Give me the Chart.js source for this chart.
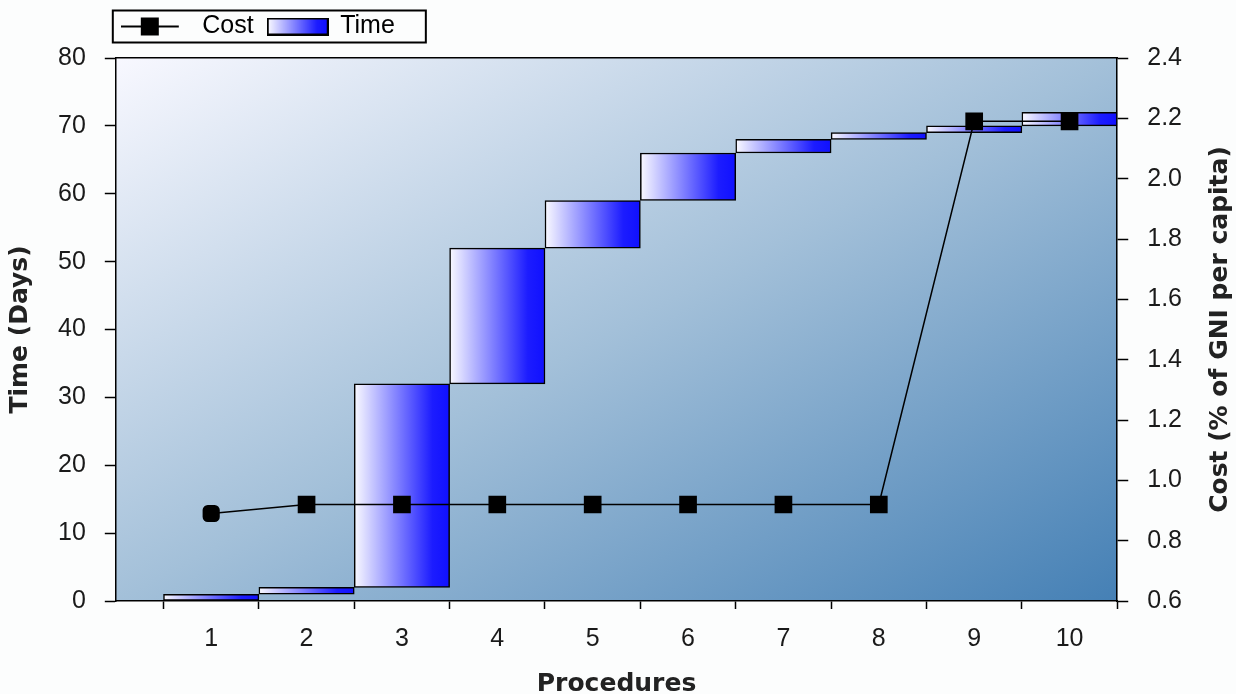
<!DOCTYPE html>
<html><head><meta charset="utf-8">
<script src="https://cdn.jsdelivr.net/npm/chart.js@4/dist/chart.umd.min.js"></script>
<style>html,body{margin:0;padding:0;background:#fcfdfd;} canvas{display:block;}</style>
</head><body>
<canvas id="c" width="1236" height="694"></canvas>
<script>
// ---- data ----
const procedures = ['1','2','3','4','5','6','7','8','9','10'];
const timeStart = [0, 1, 2, 32, 52, 59, 66, 68, 69, 70];
const timeEnd   = [1, 2, 32, 52, 59, 66, 68, 69, 70, 72];
const costValues = [0.89, 0.92, 0.92, 0.92, 0.92, 0.92, 0.92, 0.92, 2.19, 2.19];
const timeAxis = {min: 0, max: 80, step: 10};
const costAxis = {min: 0.6, max: 2.4, step: 0.2};
const seriesNames = ['Cost', 'Time'];
const xTitle = 'Procedures';
const yTitle = 'Time (Days)';
const y1Title = 'Cost (% of GNI per capita)';

const TICK_FONT = {family: '"Liberation Sans", Arial, sans-serif', size: 25};
const X_TICK_FONT = {family: '"Liberation Sans", Arial, sans-serif', size: 25, lineHeight: 1.0};
const TITLE_FONT = {family: '"DejaVu Sans", sans-serif', size: 25, weight: 'bold'};
const X_TITLE_FONT = {family: '"DejaVu Sans", sans-serif', size: 25, weight: 'bold', lineHeight: 1.0};

function fillBarGradient(g, x0, x1) {
  const gr = g.createLinearGradient(x0, 0, x1, 0);
  gr.addColorStop(0, '#fafaff');
  gr.addColorStop(0.82, '#1c1cff');
  gr.addColorStop(1, '#1010ff');
  return gr;
}

function makeCostIcon() {
  const cv = document.createElement('canvas');
  cv.width = 78; cv.height = 20;
  const g = cv.getContext('2d');
  g.strokeStyle = '#000'; g.lineWidth = 2;
  g.beginPath(); g.moveTo(0, 10); g.lineTo(58, 10); g.stroke();
  g.fillStyle = '#000'; g.fillRect(20, 1, 18, 18);
  return cv;
}
function makeTimeIcon() {
  const cv = document.createElement('canvas');
  cv.width = 62; cv.height = 18;
  const g = cv.getContext('2d');
  g.fillStyle = fillBarGradient(g, 1, 61);
  g.fillRect(1, 1, 60, 16);
  g.strokeStyle = '#000'; g.lineWidth = 2;
  g.strokeRect(1, 1, 60, 16);
  return cv;
}
const costIcon = makeCostIcon();
const timeIcon = makeTimeIcon();

function barGradient(c) {
  const chart = c.chart, xs = chart.scales.x;
  if (!xs || c.type !== 'data' || !chart.chartArea) return '#4040ff';
  const xv = c.raw.x;
  const l = xs.getPixelForValue(xv - 0.5), r = xs.getPixelForValue(xv + 0.5);
  return fillBarGradient(chart.ctx, l, r);
}

const bgPlugin = {
  id: 'bgPlugin',
  beforeDraw(chart) {
    const {ctx, chartArea: a} = chart;
    ctx.save();
    ctx.fillStyle = '#fcfdfd';
    ctx.fillRect(0, 0, chart.width, chart.height);
    const W = a.right - a.left, H = a.bottom - a.top;
    const cx = (a.left + a.right) / 2, cy = (a.top + a.bottom) / 2;
    const L = Math.sqrt(W * W + H * H);
    const dx = H / L, dy = W / L;
    const proj = W * H / L;
    const gr = ctx.createLinearGradient(cx - dx * proj, cy - dy * proj, cx + dx * proj, cy + dy * proj);
    gr.addColorStop(0, '#f8f8ff');
    gr.addColorStop(0.5, '#a3c0d9');
    gr.addColorStop(1, '#4580b5');
    ctx.fillStyle = gr;
    ctx.fillRect(a.left, a.top, W, H);
    ctx.restore();
  },
  afterDraw(chart) {
    const {ctx, chartArea: a} = chart;
    ctx.save();
    // legend frame
    const hb = chart.legend && chart.legend.legendHitBoxes;
    if (hb && hb.length) {
      const first = hb[0], last = hb[hb.length - 1];
      const midY = first.top + first.height / 2;
      ctx.strokeStyle = '#000';
      ctx.lineWidth = 2;
      const x0 = first.left - 17, x1 = last.left + last.width + 31;
      ctx.strokeRect(x0, midY - 16, x1 - x0, 32);
    }
    // right axis title (reads bottom-to-top)
    const s = chart.scales.y1;
    ctx.font = 'bold 25px "DejaVu Sans", sans-serif';
    ctx.fillStyle = '#222';
    ctx.textAlign = 'center'; ctx.textBaseline = 'middle';
    ctx.translate(s.right - 1 - 15, (a.top + a.bottom) / 2);
    ctx.rotate(-Math.PI / 2);
    ctx.fillText(y1Title, 0, 0);
    ctx.restore();
  }
};

new Chart(document.getElementById('c'), {
  type: 'bar',
  data: {
    datasets: [
      {
        type: 'line', label: seriesNames[0], yAxisID: 'y1', xAxisID: 'x',
        data: costValues.map((v, i) => ({x: i + 1, y: v})),
        borderColor: '#000', borderWidth: 1.5, tension: 0,
        pointStyle: c => c.dataIndex === 0 ? 'rectRounded' : 'rect',
        pointRadius: c => c.dataIndex === 0 ? 10 : 12.5,
        pointBackgroundColor: '#000', pointBorderColor: '#000', pointBorderWidth: 0,
        order: 0
      },
      {
        type: 'bar', label: seriesNames[1], yAxisID: 'y', xAxisID: 'x',
        data: timeStart.map((s, i) => ({x: i + 1, y: [s, timeEnd[i]]})),
        backgroundColor: barGradient,
        borderColor: '#000', borderWidth: 1.5, borderSkipped: false,
        barThickness: 'flex', barPercentage: 1, categoryPercentage: 1,
        order: 1
      }
    ]
  },
  options: {
    responsive: false,
    animation: false,
    layout: {padding: {left: 0, right: 0, top: 0, bottom: 0}},
    scales: {
      x: {
        type: 'linear', position: 'bottom', min: 0, max: procedures.length + 0.5, offset: false,
        afterBuildTicks: s => {
          const t = [];
          for (let i = 0; i < procedures.length; i++) { t.push({value: i + 0.5}); t.push({value: i + 1}); }
          t.push({value: procedures.length + 0.5});
          s.ticks = t;
        },
        ticks: {
          autoSkip: false, maxRotation: 0, font: X_TICK_FONT, color: '#1a1a1a', padding: 18,
          callback: v => Number.isInteger(v) ? procedures[v - 1] : ''
        },
        grid: {
          offset: false, drawOnChartArea: false, drawTicks: true, tickLength: 8, tickWidth: 1.5,
          tickColor: c => (c.tick && Number.isInteger(c.tick.value)) ? 'rgba(0,0,0,0)' : '#000'
        },
        border: {display: true, color: '#000', width: 1.5},
        title: {display: true, text: xTitle, font: X_TITLE_FONT, color: '#222', padding: {top: 2, bottom: -3}}
      },
      xTop: {
        type: 'linear', position: 'top', min: 0, max: procedures.length + 0.5, offset: false,
        ticks: {display: false},
        grid: {drawOnChartArea: false, drawTicks: true, tickLength: 9, tickColor: 'rgba(0,0,0,0)'},
        border: {display: true, color: '#000', width: 1.5}
      },
      y: {
        type: 'linear', position: 'left', min: timeAxis.min, max: timeAxis.max,
        ticks: {stepSize: timeAxis.step, font: TICK_FONT, color: '#1a1a1a', padding: 19},
        grid: {drawOnChartArea: false, drawTicks: true, tickLength: 11, tickWidth: 1.5, tickColor: '#000'},
        border: {display: true, color: '#000', width: 1.5},
        title: {display: true, text: yTitle, font: TITLE_FONT, color: '#222', padding: {top: 5, bottom: 4}}
      },
      y1: {
        type: 'linear', position: 'right', min: costAxis.min, max: costAxis.max,
        ticks: {stepSize: costAxis.step, font: TICK_FONT, color: '#1a1a1a', padding: 19,
          callback: v => Number(v).toFixed(1)},
        grid: {drawOnChartArea: false, drawTicks: true, tickLength: 11, tickWidth: 1.5, tickColor: '#000'},
        border: {display: true, color: '#000', width: 1.5},
        title: {display: true, text: y1Title, font: TITLE_FONT, color: 'rgba(0,0,0,0)', padding: {top: 1, bottom: 4}}
      }
    },
    plugins: {
      tooltip: {enabled: false},
      legend: {
        display: true, position: 'top', align: 'start', fullSize: false,
        labels: {
          usePointStyle: true, pointStyleWidth: 60, padding: 14,
          font: TICK_FONT, color: '#000',
          generateLabels: () => [
            {text: seriesNames[0], pointStyle: costIcon, datasetIndex: 0, hidden: false, lineWidth: 0, fontColor: '#000'},
            {text: seriesNames[1], pointStyle: timeIcon, datasetIndex: 1, hidden: false, lineWidth: 0, fontColor: '#000'}
          ]
        }
      }
    }
  },
  plugins: [bgPlugin]
});
</script>
</body></html>
